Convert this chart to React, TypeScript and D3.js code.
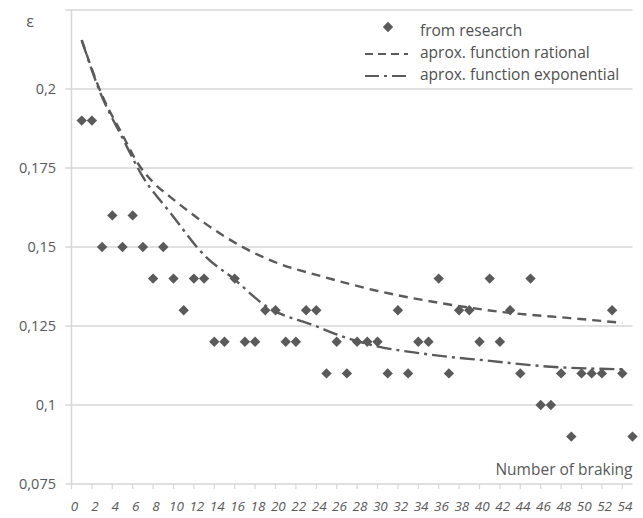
import React from 'react';
import * as d3 from 'd3';

// measured values (number of braking = index + 1)
const researchValues = [
  0.19, 0.19, 0.15, 0.16, 0.15, 0.16, 0.15, 0.14, 0.15, 0.14,
  0.13, 0.14, 0.14, 0.12, 0.12, 0.14, 0.12, 0.12, 0.13, 0.13,
  0.12, 0.12, 0.13, 0.13, 0.11, 0.12, 0.11, 0.12, 0.12, 0.12,
  0.11, 0.13, 0.11, 0.12, 0.12, 0.14, 0.11, 0.13, 0.13, 0.12,
  0.14, 0.12, 0.13, 0.11, 0.14, 0.10, 0.10, 0.11, 0.09, 0.11,
  0.11, 0.11, 0.13, 0.11, 0.09,
];

// approximation curves
const rationalX = [1, 3, 5, 6.5, 8, 9.7, 11.3, 13.3, 16.5, 20.7, 24.1, 29.6, 36.1, 42.3, 48.9, 54];
const rationalY = [0.2155, 0.198, 0.1855, 0.1765, 0.1705, 0.1658, 0.1617, 0.157, 0.1505, 0.1443, 0.1411, 0.1364, 0.1323, 0.1294, 0.1275, 0.126];

const exponentialX = [1, 2.8, 5, 7, 9.7, 13.2, 15.8, 19.2, 23.7, 27, 30.2, 33.9, 37.1, 40.3, 46.6, 54];
const exponentialY = [0.2155, 0.199, 0.1845, 0.1722, 0.1608, 0.1468, 0.1402, 0.131, 0.1253, 0.1212, 0.1184, 0.1165, 0.1152, 0.1142, 0.1122, 0.1113];

const yTicks = [0.075, 0.1, 0.125, 0.15, 0.175, 0.2, 0.225];
const yTickLabels = ['0,075', '0,1', '0,125', '0,15', '0,175', '0,2', ''];
const xTicks = [0, 2, 4, 6, 8, 10, 12, 14, 16, 18, 20, 22, 24, 26, 28, 30, 32, 34, 36, 38, 40, 42, 44, 46, 48, 50, 52, 54];

const legendLabels = ['from research', 'aprox. function rational', 'aprox. function exponential'];

const W = 643;
const H = 518;
const M = { left: 71.5, right: 632.5, top: 10, bottom: 484 };

const GRID = '#d6d6d6';
const INK = '#5a5a5a';
const TXT = '#595959';
const FONT = '"Open Sans", "Noto Sans", sans-serif';

export default function App() {
  const x = d3.scaleLinear().domain([0, 55]).range([M.left, M.right]);
  const y = d3.scaleLinear().domain([0.075, 0.225]).range([M.bottom, M.top]);
  const xLabel = d3.scaleLinear().domain([0, 54]).range([74.5, 625]);

  const line = d3
    .line<[number, number]>()
    .x((d) => x(d[0]))
    .y((d) => y(d[1]))
    .curve(d3.curveMonotoneX);

  const rational = line(rationalX.map((v, i) => [v, rationalY[i]]) as [number, number][]) || '';
  const exponential = line(exponentialX.map((v, i) => [v, exponentialY[i]]) as [number, number][]) || '';

  const diamond = d3.symbol().type(d3.symbolSquare).size(54)() || '';

  const dashed = '9,6';
  const dashDot = '15,5,3,5';

  return (
    <svg
      width={W}
      height={H}
      viewBox={`0 0 ${W} ${H}`}
      style={{ position: 'absolute', left: 0, top: 0, background: '#fff' }}
    >
      <rect x={0} y={0} width={W} height={H} fill="#fff" />
      {/* gridlines and y ticks */}
      {yTicks.map((t, i) => (
        <g key={'y' + t}>
          <line x1={M.left - 6} x2={M.right} y1={y(t)} y2={y(t)} stroke={GRID} strokeWidth={1.5} />
          <text
            x={56}
            y={y(t)}
            dy="0.35em"
            textAnchor="end"
            fontFamily={FONT}
            fontSize={14.5}
            fill={TXT}
          >
            {yTickLabels[i]}
          </text>
        </g>
      ))}
      {/* y axis */}
      <line x1={M.left} x2={M.left} y1={M.top} y2={M.bottom} stroke={GRID} strokeWidth={1.5} />
      {/* x ticks and labels */}
      {xTicks.map((t) => (
        <g key={'x' + t}>
          <line x1={x(t)} x2={x(t)} y1={M.bottom} y2={M.bottom + 5} stroke={GRID} strokeWidth={1.2} />
          <text
            x={xLabel(t)}
            y={511}
            textAnchor="middle"
            fontFamily={FONT}
            fontStyle="italic"
            fontSize={13.5}
            fill={TXT}
          >
            {t}
          </text>
        </g>
      ))}
      {/* axis titles */}
      <text x={30} y={27} textAnchor="middle" fontFamily={FONT} fontSize={16} fill={TXT}>
        ε
      </text>
      <text x={M.right} y={475} textAnchor="end" fontFamily={FONT} fontSize={15.5} fill={TXT}>
        Number of braking
      </text>
      {/* curves */}
      <path d={rational} fill="none" stroke={INK} strokeWidth={2.4} strokeDasharray={dashed} />
      <path d={exponential} fill="none" stroke={INK} strokeWidth={2.4} strokeDasharray={dashDot} />
      {/* research points */}
      {researchValues.map((v, i) => (
        <path
          key={'p' + i}
          d={diamond}
          transform={`translate(${x(i + 1)},${y(v)}) rotate(45)`}
          fill={INK}
        />
      ))}
      {/* legend */}
      <g fontFamily={FONT} fontSize={15.5} fill="#505050">
        <path d={diamond} transform="translate(388,27) rotate(45)" fill={INK} />
        <text x={420} y={36}>{legendLabels[0]}</text>
        <line x1={365} x2={408} y1={54} y2={54} stroke={INK} strokeWidth={2.2} strokeDasharray="8,5" />
        <text x={420} y={58}>{legendLabels[1]}</text>
        <line x1={365} x2={408} y1={76} y2={76} stroke={INK} strokeWidth={2.2} strokeDasharray="14,5,3,5" />
        <text x={420} y={80}>{legendLabels[2]}</text>
      </g>
    </svg>
  );
}
